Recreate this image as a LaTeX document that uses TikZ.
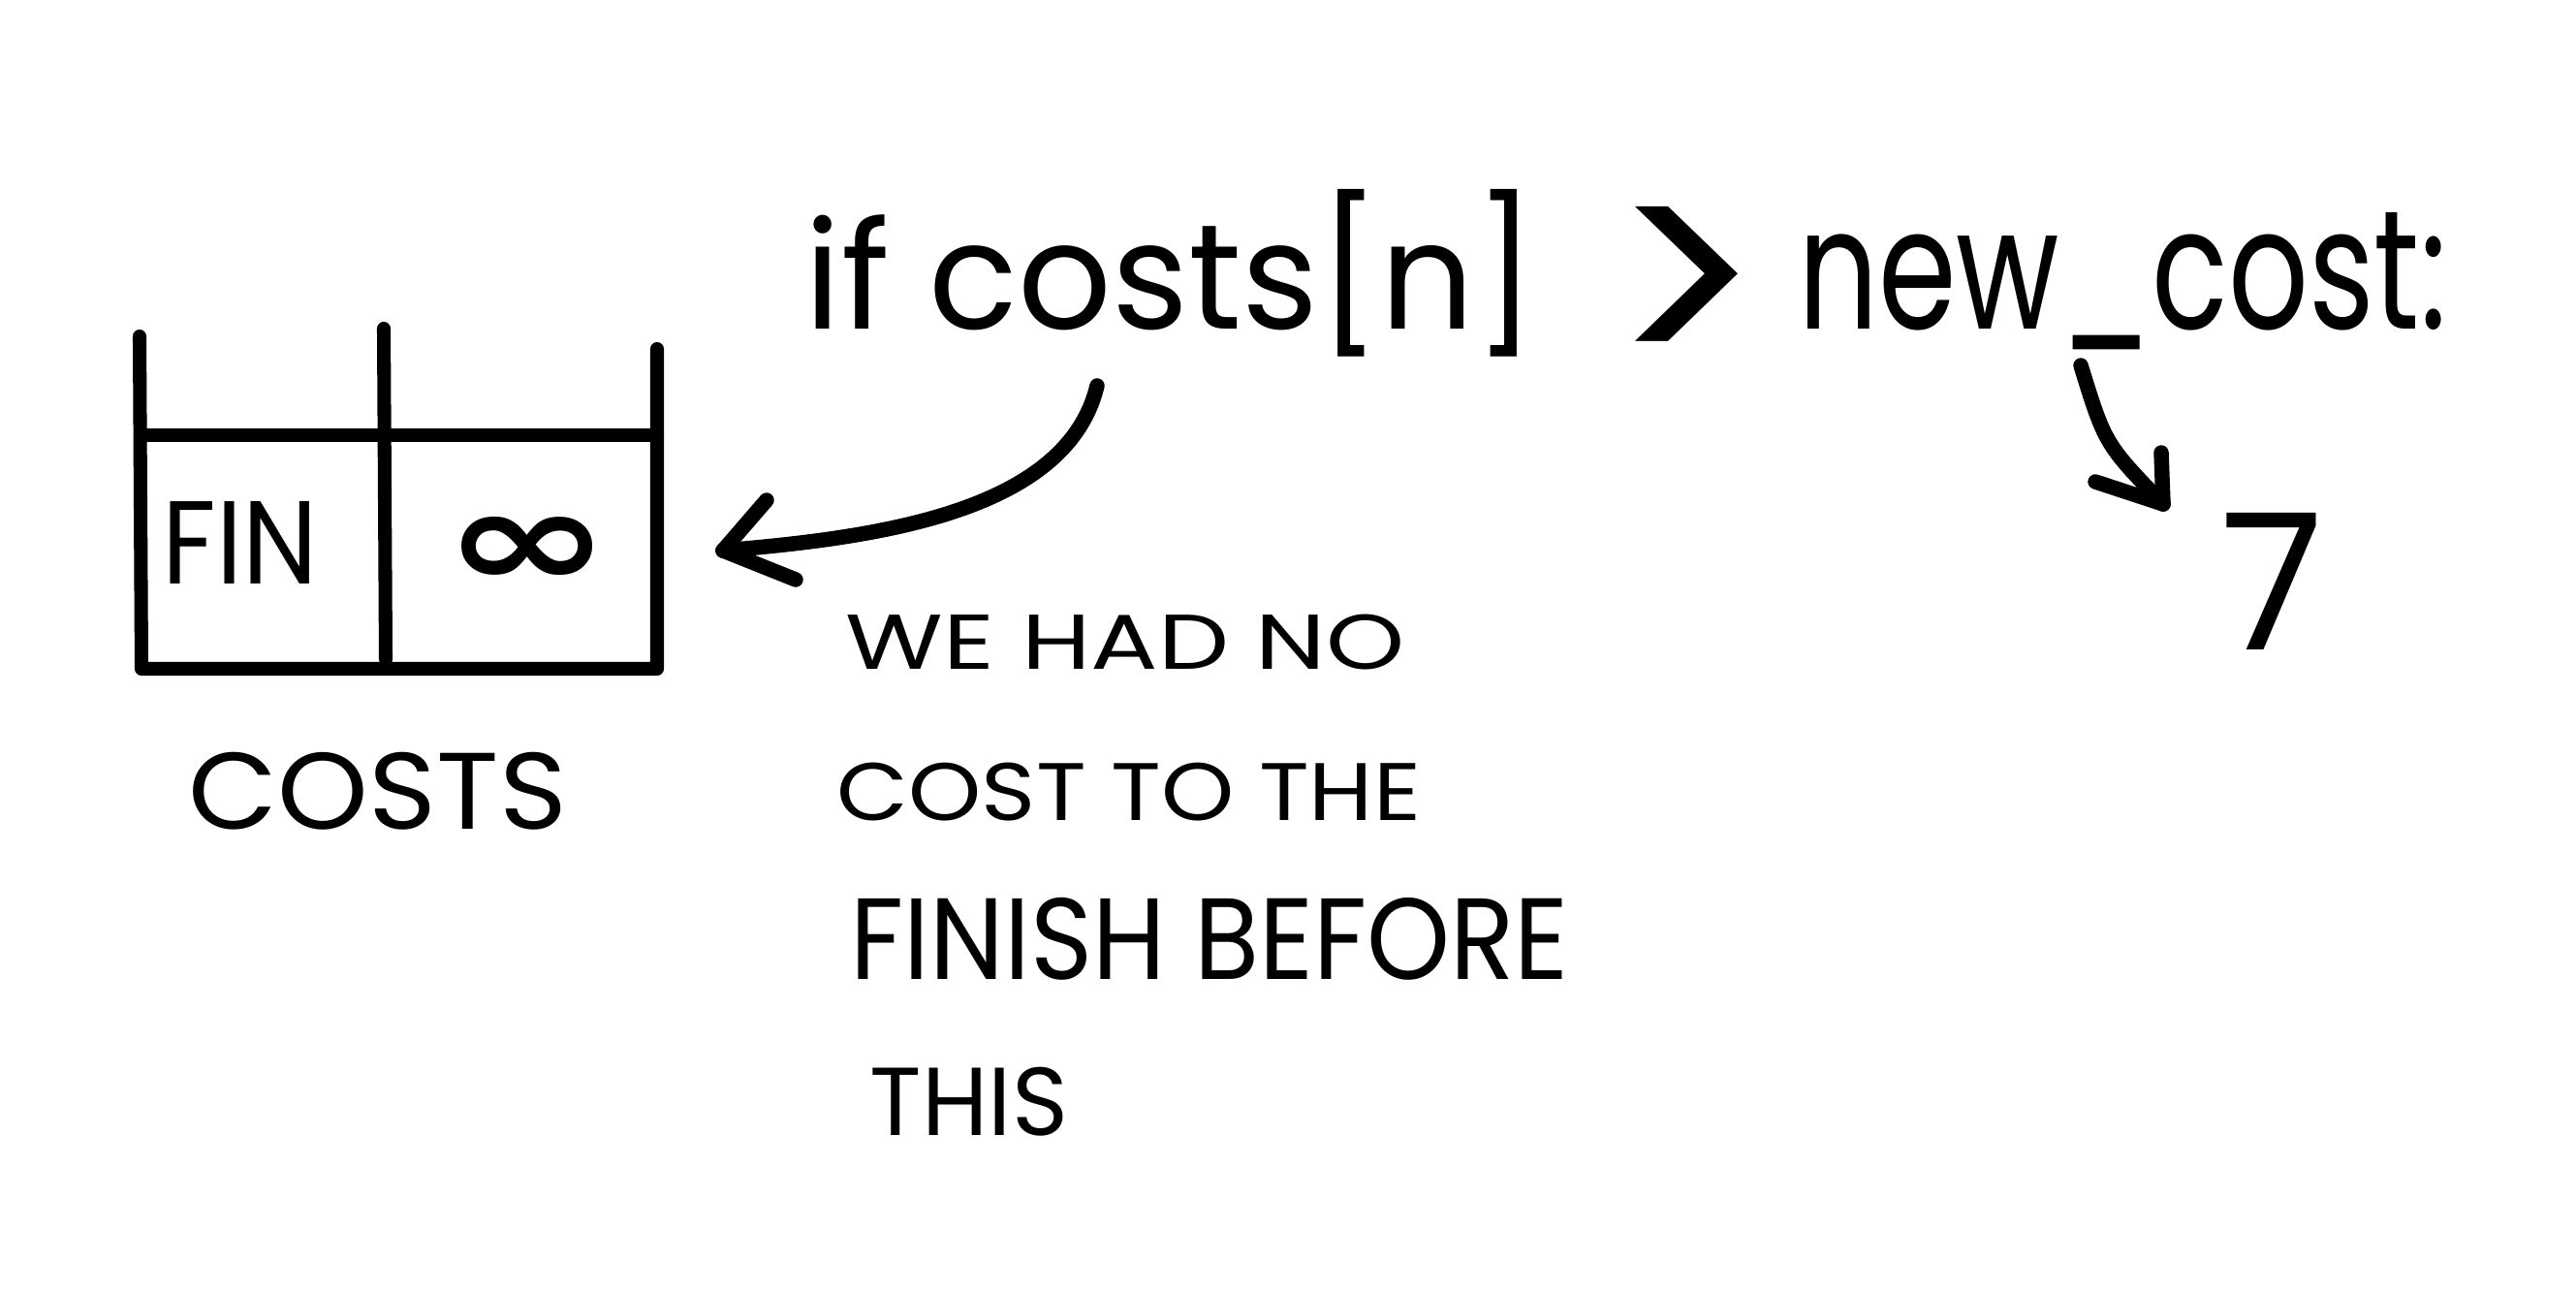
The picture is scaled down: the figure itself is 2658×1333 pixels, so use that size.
\documentclass[tikz,border=0pt]{standalone}
\usepackage{fontspec}
\setmainfont{Poppins}
\newfontfamily\djv{DejaVu Sans}
\usepackage{graphicx}
\begin{document}
\begin{tikzpicture}[x=0.01cm,y=-0.01cm,
  ink/.style={line width=4.4pt,line cap=round,line join=round},
  tbl/.style={line width=4pt,line cap=round,line join=round},
  lbl/.style={inner sep=0pt,outer sep=0pt}]
\fill[white] (0,0) rectangle (2658,1333);
\useasboundingbox (0,0) rectangle (2658,1333);
% table
\draw[tbl] (144,347) -- (146,690) -- (678,690) -- (678,360);
\draw[tbl] (146,449) -- (678,449);
\draw[tbl] (396,339) -- (398,680);
\node[lbl] (fin) at (248,560) {\resizebox*{1.6cm}{0.85cm}{FIN}};
\node[lbl] (inf) at (544,570) {\resizebox*{1.73cm}{0.73cm}{\djv\bfseries ∞}};
\node[lbl] (costs) at (390,816) {\resizebox*{3.9cm}{0.8cm}{COSTS}};
% code line
\node[lbl,anchor=base] (c1) at (1208,339) {\resizebox{7.54cm}{1.44cm}{if costs[n]}};
\node[lbl] (gt) at (1740,303) {\resizebox*{1.6cm}{1.8cm}{>}};
\node[lbl,anchor=base] (c2) at (2190,339) {\resizebox{6.69cm}{1.2cm}{new\_cost:}};
% captions
\node[lbl] (l1) at (1161,663) {\resizebox*{5.76cm}{0.57cm}{WE HAD NO}};
\node[lbl] (l2) at (1165,817) {\resizebox*{6.02cm}{0.6cm}{COST TO THE}};
\node[lbl] (l3) at (1248,969) {\resizebox*{7.41cm}{0.85cm}{FINISH BEFORE}};
\node[lbl] (l4) at (1000,1137) {\resizebox*{2.04cm}{0.71cm}{THIS}};
\node[lbl] (seven) at (2345,600) {\resizebox*{1.06cm}{1.41cm}{7}};
% arrows
\coordinate (a1s) at (1132,398);
\coordinate (a1e) at (746,568);
\draw[ink] (a1s) .. controls (1100,530) and (900,555) .. (a1e);
\draw[ink] (a1e) -- ++(45,-52);
\draw[ink] (a1e) -- ++(75,30);
\coordinate (a2s) at (2147,377);
\coordinate (a2e) at (2232,520);
\draw[ink] (a2s) .. controls (2172,458) .. (a2e);
\draw[ink] (a2e) -- (2162,497);
\draw[ink] (a2e) -- (2230,467);
\end{tikzpicture}
\end{document}
